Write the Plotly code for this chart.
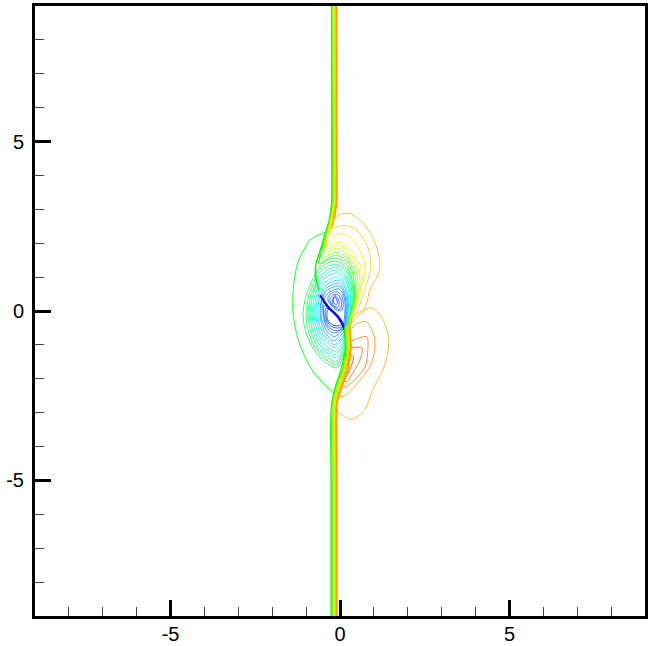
import plotly.graph_objects as go

x_range = [-9, 9]
y_range = [-9, 9]
major_ticks = [-5, 0, 5]
major_labels = ["-5", "0", "5"]

# Outer contour on the left of the vortex
outer_level = [0.47]
outer_x = [-0.38, -0.62, -0.88, -1.24, -1.38, -1.38, -1.18, -0.79, -0.21]
outer_y = [2.33, 2.25, 2.09, 1.44, 0.62, -0.12, -1.0, -1.79, -2.41]

# Nested rings around the vortex core
ring_levels = [0.44, 0.41, 0.38, 0.34, 0.30, 0.27, 0.24, 0.20, 0.17, 0.14, 0.11]
ring_x = [
    [-.66,-.4,-.1,.2,.38,.42,.37,.27,.2,.03,-.1,-.45,-.8,-1.03,-1.09,-1.0,-.8,-.66],
    [-.68,-.38,-.1,.18,.35,.39,.35,.26,.19,.02,-.12,-.42,-.75,-.95,-1.0,-.92,-.75,-.68],
    [-.68,-.36,-.1,.16,.32,.36,.32,.24,.17,.01,-.13,-.4,-.7,-.89,-.94,-.87,-.72,-.68],
    [-.65,-.34,-.1,.14,.29,.33,.3,.23,.16,0,-.14,-.38,-.66,-.83,-.88,-.82,-.7,-.65],
    [-.62,-.32,-.1,.13,.27,.31,.28,.21,.15,-.01,-.15,-.36,-.62,-.78,-.82,-.77,-.67,-.62],
    [-.57,-.3,-.1,.12,.25,.29,.25,.2,.14,-.02,-.16,-.34,-.58,-.72,-.76,-.72,-.64,-.57],
    [-.53,-.28,-.08,.11,.22,.26,.23,.18,.13,-.03,-.17,-.32,-.54,-.67,-.71,-.68,-.6,-.53],
    [-.48,-.25,-.06,.1,.2,.24,.21,.17,.12,-.04,-.17,-.3,-.5,-.62,-.65,-.63,-.56,-.48],
    [-.45,-.24,-.05,.08,.18,.21,.19,.16,.11,-.05,-.18,-.3,-.46,-.56,-.59,-.57,-.52,-.45],
    [-.42,-.23,-.05,.07,.15,.18,.17,.15,.1,-.05,-.18,-.29,-.43,-.53,-.56,-.55,-.5,-.42],
    [-.38,-.22,-.05,.06,.13,.15,.14,.12,.09,-.05,-.18,-.28,-.4,-.47,-.5,-.5,-.46,-.38],
]
ring_y = [
    [1.25,1.5,1.56,1.35,.85,.4,-.1,-.6,-1.0,-1.5,-1.68,-1.5,-1.1,-.55,-.05,.45,.95,1.25],
    [1.15,1.41,1.47,1.28,.82,.4,-.1,-.6,-1.0,-1.42,-1.59,-1.42,-1.05,-.55,-.05,.45,.9,1.15],
    [1.05,1.32,1.38,1.2,.78,.4,-.1,-.6,-.95,-1.35,-1.5,-1.35,-1.0,-.5,-.05,.42,.82,1.05],
    [.95,1.23,1.29,1.1,.72,.38,-.1,-.55,-.9,-1.24,-1.38,-1.24,-.92,-.48,-.05,.4,.75,.95],
    [.9,1.15,1.21,1.03,.68,.36,-.1,-.5,-.85,-1.16,-1.29,-1.16,-.86,-.45,-.05,.36,.68,.9],
    [.85,1.07,1.12,.96,.64,.34,-.1,-.48,-.8,-1.08,-1.2,-1.08,-.8,-.42,-.05,.34,.62,.85],
    [.76,.95,1.0,.86,.58,.3,-.1,-.45,-.74,-.98,-1.09,-.98,-.74,-.4,-.05,.3,.56,.76],
    [.7,.86,.91,.78,.52,.28,-.1,-.42,-.68,-.9,-1.0,-.9,-.68,-.36,-.05,.27,.5,.7],
    [.63,.77,.82,.7,.46,.25,-.1,-.38,-.6,-.8,-.88,-.8,-.6,-.32,-.05,.24,.45,.63],
    [.58,.69,.74,.63,.42,.22,-.1,-.35,-.52,-.69,-.76,-.69,-.52,-.28,-.05,.22,.42,.58],
    [.5,.61,.65,.56,.37,.2,-.1,-.3,-.45,-.6,-.65,-.6,-.45,-.25,-.05,.2,.37,.5],
]

# Small loops above and below the blue ridge
core_levels = [0.10, 0.08, 0.06, 0.03, 0.09, 0.06, 0.03]
core_x = [
    [-.35,-.2,-.05,.05,.1,.05,-.1,-.25,-.35,-.35],
    [-.3,-.18,-.05,.02,.05,0,-.12,-.25,-.3],
    [-.23,-.15,-.05,-.03,-.12,-.22,-.23],
    [-.2,-.15,-.1,-.08,-.13,-.2],
    [-.48,-.46,-.33,-.12,.06,.12,0,-.2,-.35,-.48],
    [-.42,-.42,-.28,-.1,.05,.08,-.05,-.25,-.42],
    [-.37,-.37,-.2,.03,.04,-.1,-.3,-.37],
]
core_y = [
    [.42,.55,.55,.45,.25,.02,.02,.15,.3,.42],
    [.35,.48,.47,.35,.2,.05,.08,.18,.35],
    [.3,.45,.35,.15,.12,.2,.3],
    [.3,.42,.35,.22,.18,.3],
    [.15,-.2,-.48,-.58,-.55,-.45,-.2,0,.12,.15],
    [.08,-.2,-.44,-.5,-.48,-.38,-.15,.02,.08],
    [.02,-.25,-.42,-.42,-.3,-.13,.05,.02],
]

# Dark blue ridge through the core
ridge_level = [0.0]
ridge_x = [-.59, -.35, -.06, .12, .18]
ridge_y = [.47, .12, -.18, -.5, -.76]

# Yellow and orange arcs over the upper lobe
arc_levels = [0.83, 0.80, 0.77, 0.74, 0.70, 0.66, 0.60, 0.55]
arc_x = [
    [-.24,-.06,.29,.68,1.03,1.18,1.12,.88,.79,.65,.44,.29],
    [-.15,.15,.5,.82,.91,.82,.65,.53,.38,.26],
    [-.29,0,.29,.59,.74,.68,.5,.38,.24],
    [-.42,-.18,-.02,.32,.6,.65,.52,.35,.25],
    [-.46,-.2,-.05,.28,.54,.59,.48,.33,.24],
    [-.5,-.22,-.07,.24,.48,.53,.45,.31,.23],
    [-.55,-.25,-.08,.22,.42,.47,.42,.3,.22],
    [-.6,-.27,-.1,.2,.38,.43,.4,.29,.21],
]
arc_y = [
    [2.53,2.82,2.88,2.59,2.03,1.41,1.06,.62,.24,-.06,-.2,-.5],
    [2.47,2.53,2.38,1.88,1.29,.91,.41,.03,-.2,-.5],
    [2.18,2.29,2.18,1.79,1.29,.91,.41,-.06,-.5],
    [1.9,2.0,2.03,1.8,1.35,.85,.3,-.1,-.45],
    [1.72,1.9,1.94,1.72,1.25,.8,.3,-.1,-.45],
    [1.6,1.81,1.85,1.62,1.2,.75,.3,-.1,-.45],
    [1.48,1.7,1.74,1.55,1.15,.7,.3,-.1,-.45],
    [1.38,1.6,1.65,1.48,1.1,.65,.3,-.1,-.45],
]

# Orange and red lobes at the lower right
lobe_levels = [0.83, 0.86, 0.89, 0.92, 0.96, 1.0]
lobe_x = [
    [.2,.4,.94,1.24,1.44,1.32,.94,.74,.35,-.06,-.18],
    [.2,.45,.79,1.03,.94,.65,.35,.06,-.15],
    [.3,.79,.82,.74,.44,.15,0],
    [.3,.65,.59,.38,.2,.06],
    [.3,.4,.3,.15,.05],
    [.28,.24,.09,-.06,-.12],
]
lobe_y = [
    [-.55,-.15,.09,-.2,-.85,-1.59,-2.38,-2.91,-3.2,-2.97,-2.7],
    [-.75,-.4,-.32,-.85,-1.53,-1.97,-2.32,-2.53,-2.41],
    [-.9,-.76,-1.15,-1.65,-2.03,-2.24,-2.18],
    [-1.09,-1.09,-1.44,-1.82,-2.09,-2.03],
    [-1.3,-1.35,-1.7,-2.0,-2.2],
    [-1.1,-1.35,-1.94,-2.3,-2.5],
]

# Steep front above the vortex
upper_levels = [0.5, 0.56, 0.64, 0.73, 0.79, 0.83, 0.85]
upper_x = [
    [-.25,-.24,-.24,-.24,-.32,-.47,-.58,-.7,-.73,-.7,-.62],
    [-.23,-.22,-.22,-.22,-.3,-.44,-.54,-.64],
    [-.21,-.19,-.19,-.19,-.28,-.42,-.5],
    [-.18,-.16,-.16,-.16,-.26,-.39,-.42],
    [-.15,-.13,-.13,-.13,-.23,-.32],
    [-.12,-.11,-.11,-.11,-.2,-.24],
    [-.1,-.09,-.09,-.09,-.16],
]
upper_y = [
    [9,4,3.5,3.26,2.68,2.18,1.8,1.41,1.2,.9,.6],
    [9,4,3.5,3.26,2.68,2.18,1.8,1.41],
    [9,4,3.5,3.26,2.68,2.18,1.7],
    [9,4,3.5,3.26,2.68,2.18,1.9],
    [9,4,3.5,3.26,2.68,2.29],
    [9,4,3.5,3.26,2.68,2.44],
    [9,4,3.5,3.26,2.74],
]

# Steep front below the vortex
lower_levels = [0.5, 0.58, 0.66, 0.74, 0.79, 0.83, 0.85]
lower_y = [-.45, -.65, -1.06, -1.74, -2.24, -2.7, -3.2, -5, -9]
lower_x = [
    [.14,.13,.16,.03,-.14,-.24,-.27,-.26,-.26],
    [.18,.16,.19,.06,-.11,-.22,-.24,-.23,-.23],
    [.2,.19,.22,.1,-.07,-.19,-.21,-.2,-.2],
    [.22,.22,.25,.13,-.04,-.16,-.18,-.17,-.17],
    [.24,.25,.28,.17,-.01,-.13,-.15,-.14,-.14],
    [.26,.28,.31,.21,.03,-.1,-.12,-.11,-.11],
    [.28,.3,.33,.23,.06,-.08,-.1,-.09,-.09],
]


def rainbow(v):
    stops = [(0, 0, 255), (0, 255, 255), (0, 255, 0), (255, 255, 0), (255, 0, 0)]
    p = max(0.0, min(0.9999, v)) * 4
    i = int(p)
    f = p - i
    a, b = stops[i], stops[i + 1]
    c = [round(a[k] + (b[k] - a[k]) * f) for k in range(3)]
    return f"rgb({c[0]},{c[1]},{c[2]})"


fig = go.Figure()


def add(xs, ys, level, width=1.0, opacity=0.8):
    fig.add_trace(go.Scatter(
        x=xs, y=ys, mode="lines", showlegend=False, hoverinfo="skip", opacity=opacity,
        line=dict(color=rainbow(level), width=width, shape="spline", smoothing=0.8),
    ))


add(outer_x, outer_y, outer_level[0], 1.1)
for lv, xs, ys in zip(ring_levels, ring_x, ring_y):
    add(xs, ys, lv)
for lv, xs, ys in zip(core_levels, core_x, core_y):
    add(xs, ys, lv)
add(ridge_x, ridge_y, ridge_level[0], 2.2, 1.0)
for lv, xs, ys in zip(arc_levels, arc_x, arc_y):
    add(xs, ys, lv)
for lv, xs, ys in zip(lobe_levels, lobe_x, lobe_y):
    add(xs, ys, lv, 2.2 if lv == 1.0 else 1.0, 1.0 if lv == 1.0 else 0.8)
for lv, xs, ys in zip(upper_levels, upper_x, upper_y):
    add(xs, ys, lv, 1.4, 1.0)
for lv, xs in zip(lower_levels, lower_x):
    add(xs, lower_y, lv, 1.4, 1.0)

axis_style = dict(
    tickmode="array", tickvals=major_ticks, ticktext=major_labels,
    ticks="inside", ticklen=16, tickwidth=3, tickcolor="black",
    showline=True, linecolor="black", linewidth=3, mirror=True,
    showgrid=False, zeroline=False, automargin=False,
    tickfont=dict(family="Liberation Sans", size=20, color="black"),
    minor=dict(ticks="inside", ticklen=9, tickwidth=1, tickcolor="#444444",
               dtick=1, tick0=0, showgrid=False),
)
fig.update_xaxes(range=x_range, ticklabelstandoff=-2, **axis_style)
fig.update_yaxes(range=y_range, ticklabelstandoff=4, **axis_style)
fig.update_layout(
    width=648, height=646, autosize=False,
    margin=dict(l=35, r=3, t=6, b=30, pad=0),
    paper_bgcolor="white", plot_bgcolor="white",
)
fig.write_html("out.html", config=dict(displayModeBar=False),
               post_script="document.body.style.margin='0';")
